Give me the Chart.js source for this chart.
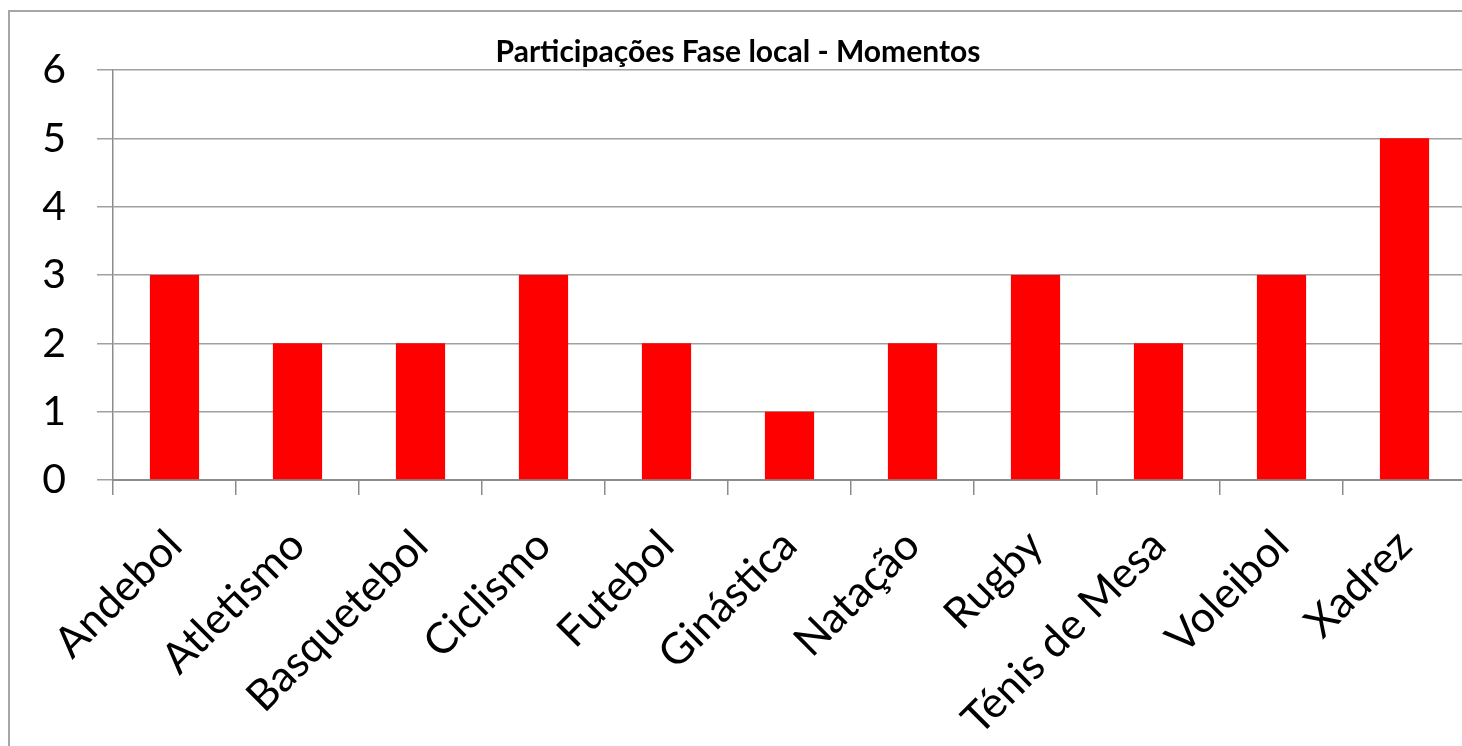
<!DOCTYPE html>
<html>
<head>
<meta charset="utf-8">
<script src="https://cdn.jsdelivr.net/npm/chart.js@4"></script>
<style>
  html, body { margin: 0; padding: 0; background: #fff; overflow: hidden; }
  body { width: 1462px; height: 746px; position: relative; }
  #frame {
    position: absolute; left: 8px; top: 10px;
    width: 1452px; height: 736px;
    border-left: 2px solid #a6a6a6; border-top: 2px solid #a6a6a6;
  }
  #wrap { position: absolute; left: 0; top: 0; width: 1456px; height: 740px; }
</style>
</head>
<body>
<div id="frame">
  <div id="wrap"><canvas id="chart"></canvas></div>
</div>
<script>
const CATEGORIES = [
  "Andebol", "Atletismo", "Basquetebol", "Ciclismo", "Futebol", "Ginástica",
  "Natação", "Rugby", "Ténis de Mesa", "Voleibol", "Xadrez",
];
const MOMENTOS = [3, 2, 2, 3, 2, 1, 2, 3, 2, 3, 5];
const Y_MIN = 0;
const Y_MAX = 6;
const Y_STEP = 1;
const TITLE = "Participações Fase local - Momentos";

const FONT = "Lato, 'Open Sans', sans-serif";

new Chart(document.getElementById("chart"), {
  type: "bar",
  data: {
    labels: CATEGORIES,
    datasets: [{
      label: "Momentos",
      data: MOMENTOS,
      backgroundColor: "#ff0000",
      borderWidth: 0,
      barPercentage: 0.4,
      categoryPercentage: 1,
    }],
  },
  options: {
    responsive: true,
    maintainAspectRatio: false,
    animation: false,
    layout: { padding: 0 },
    plugins: {
      legend: { display: false },
      tooltip: { enabled: false },
      title: {
        display: true,
        text: TITLE,
        color: "#000",
        font: { family: FONT, size: 30, weight: "bold" },
        padding: { top: 22, bottom: 0 },
      },
    },
    scales: {
      x: {
        offset: true,
        grid: {
          offset: true,
          drawOnChartArea: false,
          drawTicks: true,
          tickLength: 15,
          color: "#8c8c8c",
          lineWidth: 1.5,
        },
        border: { color: "#8c8c8c", width: 2 },
        ticks: {
          color: "#000",
          font: { family: FONT, size: 43 },
          minRotation: 45,
          maxRotation: 45,
          padding: 25,
          autoSkip: false,
        },
        afterFit: (scale) => { scale.height = 272; },
      },
      y: {
        min: Y_MIN,
        max: Y_MAX,
        grid: {
          color: "#a0a0a0",
          lineWidth: 1.5,
          drawTicks: true,
          tickLength: 16,
        },
        border: { color: "#8c8c8c", width: 1.5 },
        ticks: {
          stepSize: Y_STEP,
          color: "#000",
          font: { family: FONT, size: 41 },
          padding: 31,
        },
        afterFit: (scale) => { scale.width = 103; },
      },
    },
  },
});
</script>
</body>
</html>
